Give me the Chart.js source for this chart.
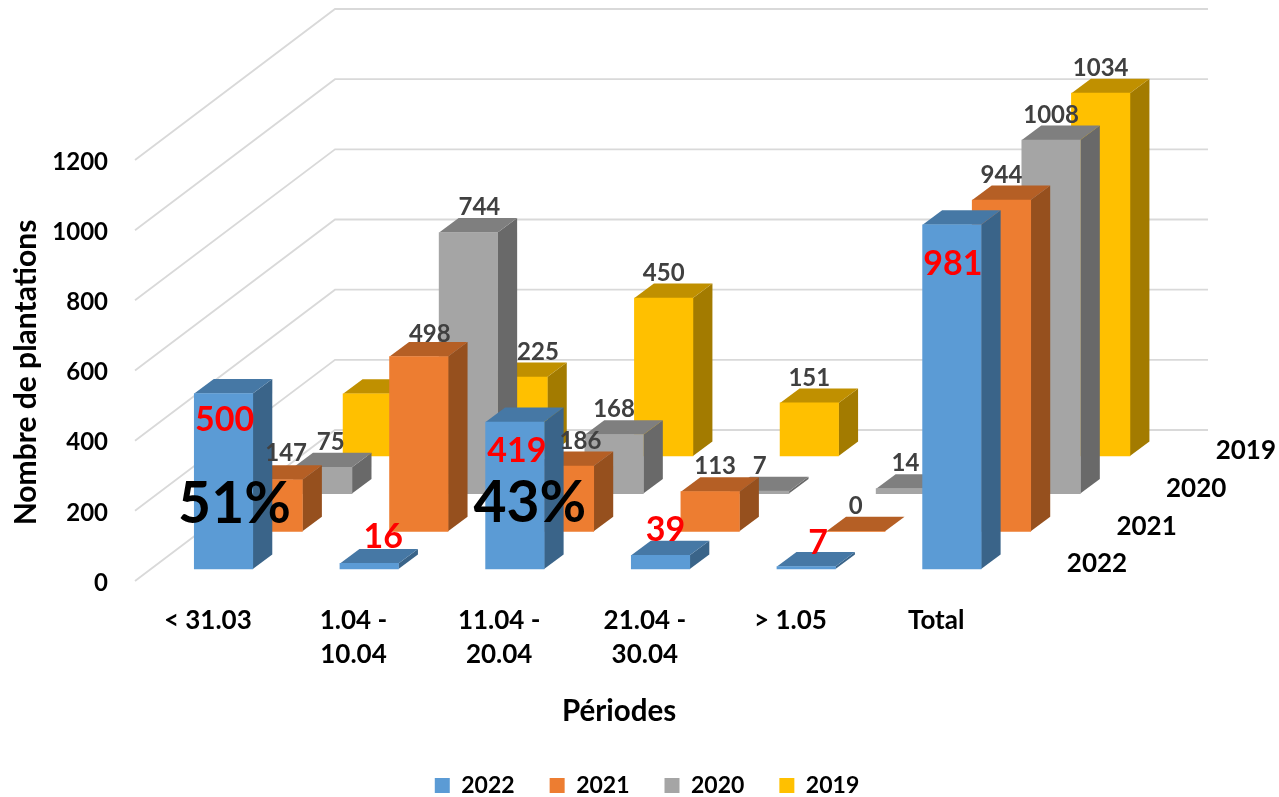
<!DOCTYPE html>
<html lang="fr">
<head>
<meta charset="utf-8">
<title>Nombre de plantations</title>
<script src="https://cdn.jsdelivr.net/npm/chart.js@4"></script>
<style>
  html, body { margin: 0; background: #fff; }
  #box { width: 1279px; height: 797px; position: relative; }
</style>
</head>
<body>
<div id="box"><canvas id="plantations"></canvas></div>
<script>
const periodes = ['< 31.03', ['1.04 -', '10.04'], ['11.04 -', '20.04'], ['21.04 -', '30.04'], '> 1.05', 'Total'];
const annees = ['2022', '2021', '2020', '2019'];
const v2022 = [500, 16, 419, 39, 7, 981];
const v2021 = [147, 498, 186, 113, 0, 944];
const v2020 = [75, 744, 168, 7, 14, 1008];
const v2019 = [177, 225, 450, 151, 31, 1034];
const series = [v2022, v2021, v2020, v2019];
const parts2022 = ['51%', null, '43%', null, null, null];

// [face, top, side] for each year
const couleurs = [
  ['#5B9BD5', '#4678A5', '#3A6489'],
  ['#ED7D31', '#B55F25', '#96501E'],
  ['#A5A5A5', '#7F7F7F', '#696969'],
  ['#FFC000', '#C09000', '#A37B00']
];

// the y axis sits 2px low so its labels line up, everything else is lifted back
const LIFT = 2;

// 3D projection, in pixels
const rowShift = i => ({dx: 15.7 + i * 49.6, dy: -12 - LIFT - i * 37.7});
const barDepth = {dx: 19.5, dy: -14.5};
const wallDepth = {dx: 200, dy: -151};

// hand placed data labels, as in the original: 'row-category': [dx, dy]
const labelMoves = {
  '0-0': [1, 26], '0-1': [14, -26], '0-2': [2, 29], '0-3': [5, -25], '0-4': [12, -24], '0-5': [1, 39],
  '1-0': [13, -26], '2-0': [8, -25], '1-1': [11, -22], '2-1': [11, -25], '3-1': [20, -25],
  '1-2': [16, -25], '1-3': [5, -25]
};
const noLabel = ['3-0', '3-4'];
const partMoves = {0: [11, 111], 2: [15, 82]};

const FONT = 'Lato';

const bars3d = {
  id: 'bars3d',
  beforeDatasetsDraw(chart) {
    const {ctx, chartArea, scales} = chart;
    ctx.save();
    ctx.strokeStyle = '#D9D9D9';
    ctx.lineWidth = 1.8;
    scales.y.ticks.forEach(t => {
      const y = scales.y.getPixelForValue(t.value) - LIFT;
      ctx.beginPath();
      ctx.moveTo(chartArea.left, y);
      ctx.lineTo(chartArea.left + wallDepth.dx, y + wallDepth.dy);
      ctx.lineTo(chartArea.right + wallDepth.dx - 1, y + wallDepth.dy);
      ctx.stroke();
    });
    ctx.restore();
  },
  beforeDatasetDraw(chart, args) {
    const {ctx} = chart;
    const s = rowShift(args.index);
    const c = couleurs[args.index];
    ctx.save();
    ctx.translate(s.dx, s.dy);
    args.meta.data.forEach(bar => {
      const right = bar.x + bar.width / 2;
      const left = bar.x - bar.width / 2;
      ctx.fillStyle = c[2];
      ctx.beginPath();
      ctx.moveTo(right, bar.y);
      ctx.lineTo(right + barDepth.dx, bar.y + barDepth.dy);
      ctx.lineTo(right + barDepth.dx, bar.base + barDepth.dy);
      ctx.lineTo(right, bar.base);
      ctx.closePath();
      ctx.fill();
      ctx.fillStyle = c[1];
      ctx.beginPath();
      ctx.moveTo(left, bar.y);
      ctx.lineTo(left + barDepth.dx, bar.y + barDepth.dy);
      ctx.lineTo(right + barDepth.dx, bar.y + barDepth.dy);
      ctx.lineTo(right, bar.y);
      ctx.closePath();
      ctx.fill();
    });
  },
  afterDatasetDraw(chart) {
    chart.ctx.restore();
  },
  afterDatasetsDraw(chart) {
    const {ctx, scales, chartArea} = chart;
    ctx.save();
    ctx.textAlign = 'center';
    ctx.textBaseline = 'middle';

    // value labels
    chart.data.datasets.forEach((ds, i) => {
      const s = rowShift(i);
      chart.getDatasetMeta(i).data.forEach((bar, j) => {
        const key = i + '-' + j;
        if (noLabel.includes(key)) return;
        const m = labelMoves[key] || [0, -25];
        ctx.font = i === 0 ? 'bold 34px ' + FONT : 'bold 24px ' + FONT;
        ctx.fillStyle = i === 0 ? '#FF0000' : '#404040';
        ctx.fillText(ds.data[j], bar.x + s.dx + m[0], bar.y + s.dy + m[1]);
      });
    });

    // big percentages on the 2022 bars
    ctx.font = 'bold 57px ' + FONT;
    ctx.fillStyle = '#000';
    chart.getDatasetMeta(0).data.forEach((bar, j) => {
      if (!parts2022[j]) return;
      const s = rowShift(0);
      ctx.fillText(parts2022[j], bar.x + s.dx + partMoves[j][0], bar.y + s.dy + partMoves[j][1]);
    });

    // depth axis labels and x title
    ctx.font = 'bold 26px ' + FONT;
    const y0 = scales.y.getPixelForValue(0);
    annees.forEach((a, i) => {
      ctx.fillText(a, chartArea.right + 88 + i * 49.6, y0 - LIFT - 17 - i * 37.7);
    });
    ctx.font = 'bold 29.5px ' + FONT;
    ctx.fillText('Périodes', 619, 711);
    ctx.restore();
  }
};

new Chart(document.getElementById('plantations'), {
  type: 'bar',
  data: {
    labels: periodes,
    datasets: annees.map((a, i) => ({
      label: a,
      data: series[i],
      backgroundColor: couleurs[i][0],
      barThickness: 58.5,
      clip: false
    }))
  },
  options: {
    responsive: true,
    maintainAspectRatio: false,
    animation: false,
    layout: {padding: {left: 15, top: 160 + LIFT}},
    datasets: {bar: {grouped: false}},
    plugins: {
      tooltip: {enabled: false},
      legend: {
        position: 'bottom',
        maxHeight: 58,
        labels: {
          boxWidth: 15,
          boxHeight: 15,
          padding: 35,
          color: '#000',
          font: {family: FONT, weight: 'bold', size: 23}
        }
      }
    },
    scales: {
      x: {
        grid: {display: false},
        border: {display: false},
        ticks: {
          color: '#000',
          padding: 15 - LIFT,
          autoSkip: false,
          maxRotation: 0,
          font: {family: FONT, weight: 'bold', size: 26, lineHeight: 1.31}
        },
        afterFit: s => { s.height = 158 - LIFT; }
      },
      y: {
        min: 0,
        max: 1200,
        grid: {display: false},
        border: {display: false},
        title: {
          display: true,
          text: 'Nombre de plantations',
          color: '#000',
          padding: {top: -7, bottom: 0},
          font: {family: FONT, weight: 'bold', size: 30}
        },
        ticks: {
          color: '#000',
          stepSize: 200,
          padding: 19,
          font: {family: FONT, weight: 'bold', size: 24},
          callback: v => String(v)
        },
        afterFit: s => { s.width = 120; }
      },
      droite: {
        position: 'right',
        grid: {display: false},
        border: {display: false},
        ticks: {display: false},
        afterFit: s => { s.width = 270; }
      }
    }
  },
  plugins: [bars3d]
});
</script>
</body>
</html>
